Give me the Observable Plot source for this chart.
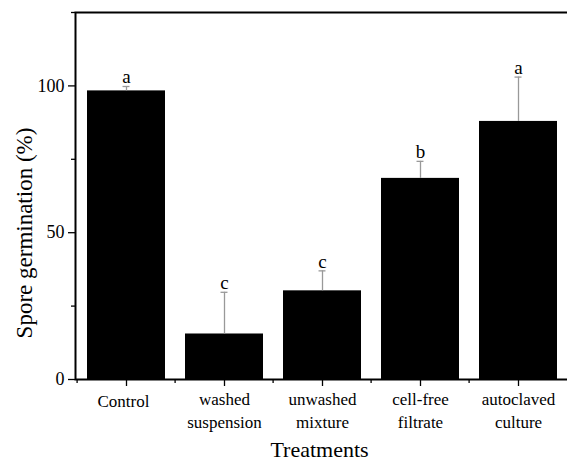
<!DOCTYPE html>
<html>
<head>
<meta charset="utf-8">
<script src="https://cdn.jsdelivr.net/npm/d3@7"></script>
<script src="https://cdn.jsdelivr.net/npm/@observablehq/plot@0.6"></script>
<style>
  html, body { margin: 0; padding: 0; background: #fff; overflow: hidden; }
  svg, svg text { font-family: "Liberation Serif", "Times New Roman", serif !important; }
</style>
</head>
<body>
<div id="chart"></div>
<script>
const categories = ["Control", "washed suspension", "unwashed mixture", "cell-free filtrate", "autoclaved culture"];
const labels = ["Control", "washed\nsuspension", "unwashed\nmixture", "cell-free\nfiltrate", "autoclaved\nculture"];
const means = [98.3, 15.5, 30.2, 68.5, 87.9];
const errors = [1.5, 14.2, 6.8, 5.8, 15.1];
const letters = ["a", "c", "c", "b", "a"];
const yMajorTicks = [0, 50, 100];
const yMinorTicks = [25, 75, 125];

const data = categories.map((c, i) => ({cat: c, label: labels[i], mean: means[i], err: errors[i], top: means[i] + errors[i], letter: letters[i]}));

const W = 567, H = 460, ML = 75, MR = -2;
const step = (W - ML - MR) / categories.length;
const bandwidth = step * 0.8;
const capW = 8;
const font = "'Liberation Serif', 'Times New Roman', serif";

const chart = Plot.plot({
  width: W,
  height: H,
  marginLeft: ML,
  marginRight: MR,
  marginTop: 12,
  marginBottom: 81,
  style: {fontFamily: font, background: "#fff", overflow: "visible", color: "black"},
  x: {domain: categories, paddingInner: 0.2, paddingOuter: 0.1},
  y: {domain: [0, 125]},
  marks: [
    Plot.barY(data, {x: "cat", y: "mean", fill: "black"}),
    Plot.ruleX(data, {x: "cat", y1: "mean", y2: "top", stroke: "#999", strokeWidth: 1.3}),
    Plot.tickY(data, {x: "cat", y: "top", stroke: "#999", strokeWidth: 1.3, insetLeft: (bandwidth - capW) / 2, insetRight: (bandwidth - capW) / 2}),
    Plot.text(data, {x: "cat", y: "top", text: "letter", lineAnchor: "bottom", dy: -3, fontSize: 19, fontFamily: font, fill: "black"}),
    Plot.axisY({ticks: yMajorTicks, tickSize: 7, tickPadding: 4, fontSize: 18, fontFamily: font, label: null, tickFormat: d => d, stroke: "black", strokeWidth: 1.3, fill: "black"}),
    Plot.axisY({ticks: yMinorTicks, tickSize: 4, tickFormat: () => "", label: null, stroke: "black", strokeWidth: 1.3}),
    Plot.axisX({tickSize: 7, tickFormat: () => "", label: null, stroke: "black", strokeWidth: 1.3}),
    Plot.axisX({tickSize: 4, tickFormat: () => "", label: null, dx: -step / 2, stroke: "black", strokeWidth: 1.3}),
    Plot.frame({stroke: "black", strokeWidth: 2}),
    Plot.text(data.filter(d => !d.label.includes("\n")), {x: "cat", text: "label", frameAnchor: "bottom", lineAnchor: "top", dy: 15, dx: -3, fontSize: 17, fontFamily: font, fill: "black"}),
    Plot.text(data.filter(d => d.label.includes("\n")), {x: "cat", text: "label", frameAnchor: "bottom", lineAnchor: "top", dy: 9, fontSize: 17, fontFamily: font, lineHeight: 1.35, fill: "black"}),
    Plot.text(["Treatments"], {frameAnchor: "bottom", lineAnchor: "middle", dy: 70, dx: -3, fontSize: 22, fontFamily: font, fill: "black"}),
    Plot.text(["Spore germination (%)"], {frameAnchor: "left", textAnchor: "middle", rotate: -90, lineAnchor: "middle", dx: -51, dy: 37, fontSize: 23, fontFamily: font, fill: "black"})
  ]
});
document.getElementById("chart").appendChild(chart);
</script>
</body>
</html>
